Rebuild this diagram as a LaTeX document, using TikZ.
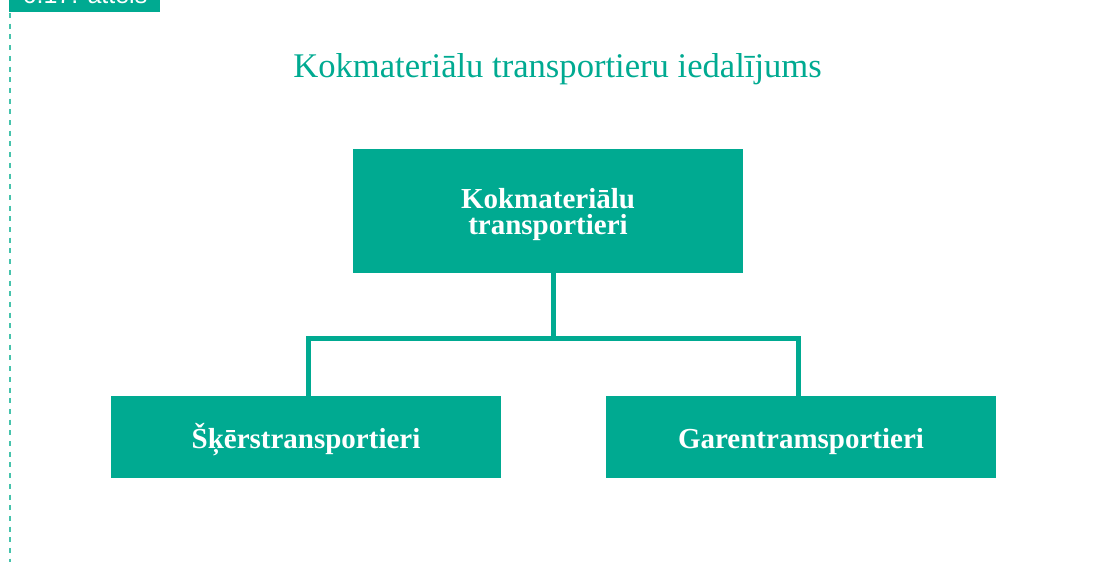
\documentclass[tikz,border=0pt]{standalone}
\usepackage{fontspec}
\setmainfont{Liberation Serif}
\newfontfamily\labelfont{Liberation Sans}
\definecolor{teal1}{RGB}{0,170,145}
\definecolor{teal2}{RGB}{70,195,172}
\tikzset{
  box/.style={fill=teal1, draw=none, text=white, inner sep=0pt, minimum width=390pt, align=center,
    font=\bfseries\fontsize{29}{26}\selectfont},
  lowbox/.style={box, minimum height=82pt, text height=22pt, text depth=0pt},
  conn/.style={draw=teal1, line width=5pt},
}
\begin{document}
\begin{tikzpicture}[x=1pt,y=-1pt]
\useasboundingbox (0,0) rectangle (1097,562);
\begin{scope}
\clip (0,0) rectangle (1097,562);
\fill[teal1] (9,-30) rectangle (160,12);
\node[anchor=base, text=white, font=\labelfont\fontsize{25}{25}\selectfont, inner sep=0pt] (lab) at (85,4) {6.17. attēls};
\end{scope}
\coordinate (ds) at (10,13);
\coordinate (de) at (10,562);
\draw[teal2, line width=1.5pt, dash pattern=on 5pt off 5.7pt] (ds) -- (de);
\node[text=teal1, font=\fontsize{34.6}{40}\selectfont, anchor=base, inner sep=0pt] (title) at (557.5,77) {Kokmateriālu transportieru iedalījums};
\node[box, minimum height=124pt, text depth=0pt] (top) at (548,211) {Kokmateriālu\\transportieri};
\node[lowbox] (left) at (306,437) {Šķērstransportieri};
\node[lowbox] (right) at (801,437) {Garentramsportieri};
\coordinate (ts) at ([xshift=5pt]top.south);
\coordinate (ln) at ([xshift=2pt]left.north);
\coordinate (rn) at ([xshift=-3pt]right.north);
\draw[conn] (ts) -- ++(0,65) coordinate (mid);
\draw[conn] (ln) |- (mid) -| (rn);
\end{tikzpicture}
\end{document}
